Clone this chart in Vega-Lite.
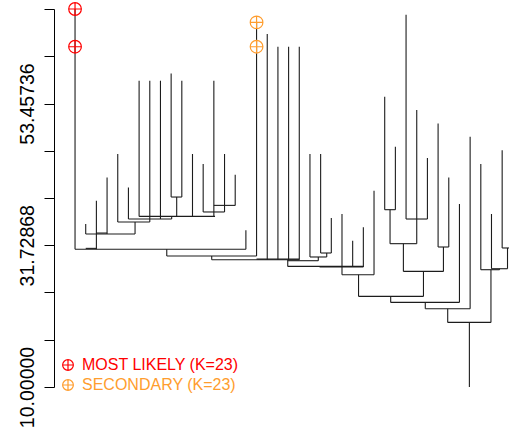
{
  "$schema": "https://vega.github.io/schema/vega-lite/v6.json",
  "width": 455,
  "height": 378,
  "autosize": {"type": "none"},
  "padding": {"left": 54, "top": 9, "right": 0, "bottom": 41},
  "background": "white",
  "config": {
    "view": {"stroke": null},
    "axisY": {
      "grid": false,
      "labelAngle": -90,
      "labelAlign": "center",
      "labelBaseline": "alphabetic",
      "labelFont": "Liberation Sans",
      "labelFontSize": 19.5,
      "labelColor": "#000000",
      "labelPadding": 11,
      "labelOverlap": false,
      "labelFlush": false,
      "labelBound": false,
      "tickSize": 10,
      "tickColor": "#000000",
      "tickWidth": 1,
      "domainColor": "#000000",
      "domainWidth": 1
    }
  },
  "datasets": {
    "stems": [
      {"pos": 1, "top": 67.94, "bottom": 31.12},
      {"pos": 2, "top": 34.99, "bottom": 33.45},
      {"pos": 3, "top": 38.56, "bottom": 31.12},
      {"pos": 4, "top": 42.13, "bottom": 33.45},
      {"pos": 5, "top": 45.72, "bottom": 35.29},
      {"pos": 6, "top": 40.6, "bottom": 35.75},
      {"pos": 6.62, "top": 35.29, "bottom": 33.45},
      {"pos": 7, "top": 56.95, "bottom": 36.15},
      {"pos": 8, "top": 56.95, "bottom": 35.29},
      {"pos": 9, "top": 56.95, "bottom": 35.75},
      {"pos": 10, "top": 58.07, "bottom": 39.12},
      {"pos": 11, "top": 56.95, "bottom": 39.12},
      {"pos": 10.52, "top": 39.12, "bottom": 36.15},
      {"pos": 10.05, "top": 36.15, "bottom": 35.75},
      {"pos": 12, "top": 45.72, "bottom": 36.15},
      {"pos": 13, "top": 44.18, "bottom": 36.83},
      {"pos": 14, "top": 56.95, "bottom": 36.15},
      {"pos": 15, "top": 45.72, "bottom": 36.83},
      {"pos": 16, "top": 42.54, "bottom": 37.84},
      {"pos": 17, "top": 34.01, "bottom": 31.12},
      {"pos": 9.59, "top": 31.12, "bottom": 30.08},
      {"pos": 13.8, "top": 30.08, "bottom": 29.51},
      {"pos": 18, "top": 65.89, "bottom": 30.08},
      {"pos": 19, "top": 64.11, "bottom": 29.51},
      {"pos": 20, "top": 62.16, "bottom": 29.51},
      {"pos": 21, "top": 62.16, "bottom": 29.51},
      {"pos": 22, "top": 62.16, "bottom": 29.51},
      {"pos": 20.92, "top": 29.51, "bottom": 28.49},
      {"pos": 23, "top": 45.72, "bottom": 29.93},
      {"pos": 24, "top": 45.72, "bottom": 30.54},
      {"pos": 25, "top": 35.91, "bottom": 30.54},
      {"pos": 24.57, "top": 30.54, "bottom": 29.93},
      {"pos": 23.78, "top": 29.93, "bottom": 29.36},
      {"pos": 26, "top": 36.52, "bottom": 27.21},
      {"pos": 27, "top": 32.43, "bottom": 28.39},
      {"pos": 28, "top": 34.47, "bottom": 28.39},
      {"pos": 29, "top": 40.09, "bottom": 27.21},
      {"pos": 27.55, "top": 27.21, "bottom": 23.89},
      {"pos": 30, "top": 54.5, "bottom": 37.18},
      {"pos": 31, "top": 46.84, "bottom": 37.18},
      {"pos": 30.5, "top": 37.18, "bottom": 31.97},
      {"pos": 32, "top": 67.07, "bottom": 35.75},
      {"pos": 33, "top": 52.46, "bottom": 31.97},
      {"pos": 34, "top": 45.1, "bottom": 35.75},
      {"pos": 31.75, "top": 31.97, "bottom": 27.72},
      {"pos": 35, "top": 50.41, "bottom": 31.46},
      {"pos": 36, "top": 42.13, "bottom": 31.46},
      {"pos": 35.5, "top": 31.46, "bottom": 27.72},
      {"pos": 33.63, "top": 27.72, "bottom": 23.89},
      {"pos": 30.56, "top": 23.89, "bottom": 22.97},
      {"pos": 37, "top": 38.05, "bottom": 22.97},
      {"pos": 33.8, "top": 22.97, "bottom": 22.0},
      {"pos": 38, "top": 48.37, "bottom": 22.0},
      {"pos": 35.9, "top": 22.0, "bottom": 19.9},
      {"pos": 37.93, "top": 19.9, "bottom": 10.0},
      {"pos": 39, "top": 44.18, "bottom": 27.98},
      {"pos": 40, "top": 36.52, "bottom": 28.13},
      {"pos": 39.95, "top": 27.98, "bottom": 19.9},
      {"pos": 41, "top": 46.3, "bottom": 31.31},
      {"pos": 41.5, "top": 31.31, "bottom": 28.13},
      {"pos": 40.75, "top": 28.13, "bottom": 27.98}
    ],
    "joins": [
      {"left": 1, "right": 17, "height": 31.12},
      {"left": 2, "right": 3, "height": 31.25},
      {"left": 2, "right": 6.62, "height": 33.45},
      {"left": 3, "right": 4, "height": 33.6},
      {"left": 5, "right": 8, "height": 35.29},
      {"left": 6, "right": 10.05, "height": 35.75},
      {"left": 7, "right": 14.11, "height": 36.15},
      {"left": 10, "right": 11, "height": 39.12},
      {"left": 13, "right": 15, "height": 36.83},
      {"left": 14, "right": 16, "height": 37.84},
      {"left": 9.59, "right": 18, "height": 30.08},
      {"left": 13.8, "right": 22, "height": 29.51},
      {"left": 18, "right": 22, "height": 29.6},
      {"left": 24, "right": 25, "height": 30.54},
      {"left": 23, "right": 24.57, "height": 29.93},
      {"left": 20.92, "right": 23.78, "height": 29.36},
      {"left": 20.92, "right": 28, "height": 28.49},
      {"left": 23.9, "right": 28, "height": 28.39},
      {"left": 26, "right": 29, "height": 27.21},
      {"left": 27.55, "right": 33.63, "height": 23.89},
      {"left": 30, "right": 31, "height": 37.18},
      {"left": 32, "right": 34, "height": 35.75},
      {"left": 30.5, "right": 33, "height": 31.97},
      {"left": 35, "right": 36, "height": 31.46},
      {"left": 31.75, "right": 35.5, "height": 27.72},
      {"left": 30.56, "right": 37, "height": 22.97},
      {"left": 33.8, "right": 38, "height": 22.0},
      {"left": 35.9, "right": 39.95, "height": 19.9},
      {"left": 39, "right": 40.75, "height": 27.98},
      {"left": 40, "right": 41.5, "height": 28.13},
      {"left": 41, "right": 42, "height": 31.31}
    ],
    "picks": [
      {"model": "MOST LIKELY (K=23)", "leaf": 1, "height": 67.94},
      {"model": "MOST LIKELY (K=23)", "leaf": 1, "height": 62.16},
      {"model": "SECONDARY (K=23)", "leaf": 18, "height": 65.89},
      {"model": "SECONDARY (K=23)", "leaf": 18, "height": 62.16}
    ]
  },
  "layer": [
    {
      "data": {"name": "stems"},
      "mark": {"type": "rule", "color": "#1c1c1c", "strokeWidth": 1.1, "clip": true},
      "encoding": {
        "x": {"field": "pos", "type": "quantitative", "scale": {"domain": [-0.97, 41.64], "nice": false, "zero": false}, "axis": null},
        "y": {
          "field": "top", "type": "quantitative",
          "scale": {"domain": [10, 67.943147], "nice": false, "zero": false},
          "axis": {
            "title": null,
            "values": [10, 17.242893, 24.485787, 31.72868, 38.971573, 46.214467, 53.45736, 60.700253, 67.943147],
            "labelExpr": "abs(datum.value-10)<0.001 || abs(datum.value-31.72868)<0.001 || abs(datum.value-53.45736)<0.001 ? format(datum.value, '.5f') : ''"
          }
        },
        "y2": {"field": "bottom"}
      }
    },
    {
      "data": {"name": "joins"},
      "mark": {"type": "rule", "color": "#1c1c1c", "strokeWidth": 1.1, "clip": true},
      "encoding": {
        "x": {"field": "left", "type": "quantitative", "axis": null},
        "x2": {"field": "right"},
        "y": {"field": "height", "type": "quantitative", "axis": {"title": null}}
      }
    },
    {
      "data": {"name": "picks"},
      "mark": {
        "type": "point",
        "shape": "M-1,0A1,1,0,1,0,1,0A1,1,0,1,0,-1,0ZM-1,0L1,0M0,-1L0,1",
        "filled": false,
        "size": 160,
        "strokeWidth": 1.2,
        "opacity": 1,
        "clip": false
      },
      "encoding": {
        "x": {"field": "leaf", "type": "quantitative", "axis": null},
        "y": {"field": "height", "type": "quantitative", "axis": {"title": null}},
        "color": {
          "field": "model", "type": "nominal",
          "scale": {"domain": ["MOST LIKELY (K=23)", "SECONDARY (K=23)"], "range": ["#FF0000", "#FF9D2E"]},
          "legend": {
            "title": null,
            "orient": "none",
            "legendX": 6,
            "legendY": 348,
            "direction": "vertical",
            "symbolType": "M-1,0A1,1,0,1,0,1,0A1,1,0,1,0,-1,0ZM-1,0L1,0M0,-1L0,1",
            "symbolSize": 115,
            "symbolStrokeWidth": 1.2,
            "symbolFillColor": "transparent",
            "labelFont": "Liberation Sans",
            "labelFontSize": 16,
            "labelOffset": 6,
            "rowPadding": 4,
            "labelLimit": 400,
            "labelColor": {"expr": "datum.value === 'MOST LIKELY (K=23)' ? '#FF0000' : '#FF9D2E'"}
          }
        }
      }
    }
  ]
}
